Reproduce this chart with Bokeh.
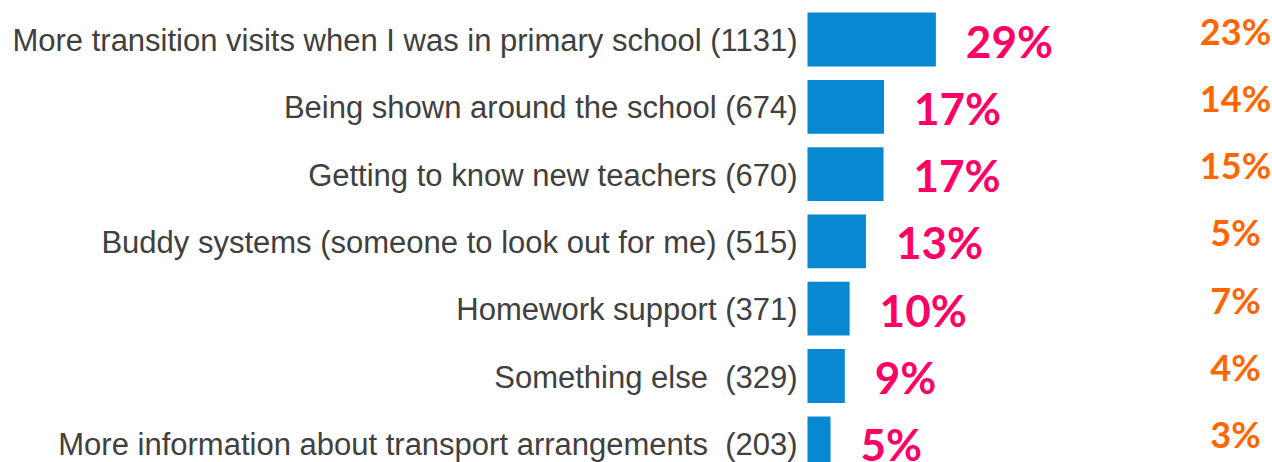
from bokeh.plotting import figure
from bokeh.models import ColumnDataSource, Range1d
from bokeh.core.properties import value
from bokeh.embed import file_html
from bokeh.resources import INLINE

NBSP = "\u00a0"
categories = [
    "More transition visits when I was in primary school (1131)",
    "Being shown around the school (674)",
    "Getting to know new teachers (670)",
    "Buddy systems (someone to look out for me) (515)",
    "Homework support (371)",
    "Something else" + NBSP + " (329)",
    "More information about transport arrangements" + NBSP + " (203)",
]
counts = [1131, 674, 670, 515, 371, 329, 203]
share_now = ["29%", "17%", "17%", "13%", "10%", "9%", "5%"]
share_prev = ["23%", "14%", "15%", "5%", "7%", "4%", "3%"]

W, H = 1272, 462
px_per_count = 0.1135
zero_px = 807
step_px = 67.3
first_center_px = 39

x_start = -zero_px / px_per_count
x_end = (W - zero_px) / px_per_count
y_top = -first_center_px / step_px
y_bottom = y_top + H / step_px

src = ColumnDataSource(dict(
    y=list(range(len(categories))),
    cat=categories,
    count=counts,
    now=share_now,
    prev=share_prev,
    zero=[0] * len(categories),
    col=[x_end] * len(categories),
))

p = figure(width=W, height=H, output_backend="svg", toolbar_location=None,
           x_range=Range1d(x_start, x_end), y_range=Range1d(y_bottom, y_top),
           min_border=0)
p.axis.visible = False
p.grid.visible = False
p.outline_line_color = None
p.background_fill_color = "white"
p.border_fill_color = "white"

p.hbar(y="y", left=0, right="count", height=0.80, source=src,
       fill_color="#0788D1", line_color=None)

p.text(x="zero", y="y", text="cat", source=src, x_offset=-10, y_offset=1,
       text_align="right", text_baseline="middle",
       text_font=value("Liberation Sans"), text_font_size=value("31px"),
       text_color="#404040")

p.text(x="count", y="y", text="now", source=src, x_offset=30, y_offset=1,
       text_align="left", text_baseline="middle",
       text_font=value("Lato"), text_font_style="bold",
       text_font_size=value("44px"), text_color="#FF0066")

p.text(x="col", y="y", text="prev", source=src, x_offset=-37, y_offset=-9,
       text_align="center", text_baseline="middle",
       text_font=value("Lato"), text_font_style="bold",
       text_font_size=value("36px"), text_color="#FF6600")

open("out.html", "w").write(file_html(p, INLINE))
